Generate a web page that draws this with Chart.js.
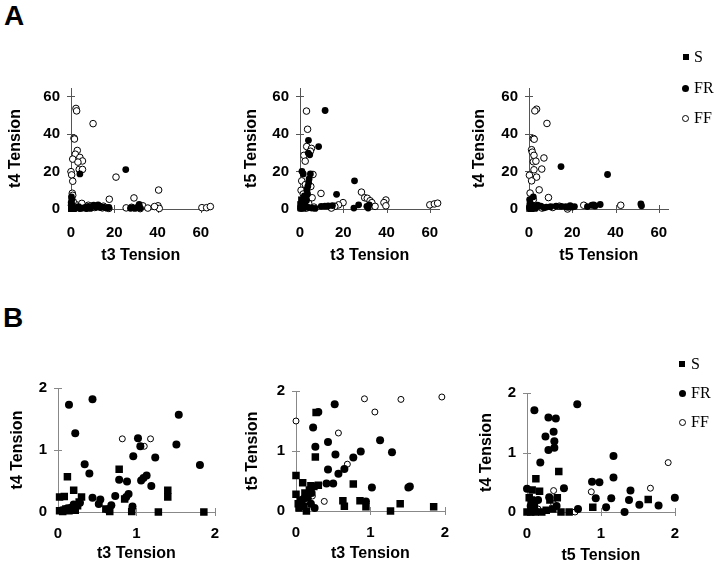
<!DOCTYPE html>
<html>
<head>
<meta charset="utf-8">
<script src="https://cdn.jsdelivr.net/npm/chart.js@4.4.1/dist/chart.umd.min.js"></script>
<style>
  body { margin:0; width:720px; height:572px; background:#fff; position:relative; overflow:hidden; font-family:"Liberation Sans", Arial, sans-serif; }
  canvas { position:absolute; }
  .letter { position:absolute; font-weight:bold; font-size:28px; line-height:28px; color:#000; }
  .leg { position:absolute; font-family:"Liberation Serif","Times New Roman",serif; font-size:16px; line-height:16px; color:#000; }
  .mk { position:absolute; box-sizing:border-box; }
  .sq { width:6px; height:6px; background:#000; }
  .fc { width:7px; height:7px; border-radius:50%; background:#000; }
  .oc { width:7px; height:7px; border-radius:50%; border:1px solid #000; background:#fff; }
</style>
</head>
<body>
<div class="letter" style="left:4px;top:2px">A</div>
<div class="letter" style="left:3px;top:304px">B</div>

<canvas id="a1"></canvas>
<canvas id="a2"></canvas>
<canvas id="a3"></canvas>
<canvas id="b1"></canvas>
<canvas id="b2"></canvas>
<canvas id="b3"></canvas>

<div id="legA"></div>
<div id="legB"></div>

<script>
// ---- data: [x, y] pairs per fibre type ----
const unitTypes = ["S", "FR", "FF"];

// A: t3 vs t4
const a1_S = [[0.1,0.1],[0.3,0.4],[0.6,0.2],[0.9,0.6],[1.2,0.1],[0.2,0.8]];
const a1_FR = [[25.3,21],[4.1,18.7],[0.2,6.4],[0.4,5.0],[0.1,3.5],[0.5,2.2],[1,1],[2,0.5],[3.5,1.2],[5,0.4],[6.5,0.9],[8,1.4],[9,0.3],[10.5,2.0],[11.5,1.0],[12.5,2.2],[13.5,0.8],[15,1.0],[16.5,0.5],[17.5,0.8],[27.5,0.4],[28.5,0.7],[29.5,0.3],[31,1.1],[32,0.5],[31.5,2.4],[0.3,0.2],[1.5,0.2],[4,0.2],[7,0.2]];
const a1_FF = [[2.3,53.6],[2.6,52.3],[1.4,37.8],[1.6,37.3],[10.2,45.5],[2.9,31.2],[2.0,29.2],[4.1,27.5],[0.8,26.6],[5.3,25.6],[3.2,25.0],[3.8,21.1],[5.3,21.1],[0,19.9],[0.3,18.2],[0.8,14.8],[0.6,8.4],[0.8,7.3],[20.8,17],[17.7,5.2],[29.1,5.9],[40.5,10.1],[40.2,1.7],[40.8,0.3],[38.6,1.3],[33.2,1.7],[35.5,0.5],[60.5,0.7],[62.7,0.7],[64.4,1.3],[0.5,0.5],[1.5,1],[3,1.5],[4.5,0.8],[6,1.2],[7.5,0.5],[9,1.6],[11,0.8],[13,1.5],[14.5,0.6],[16,0.8],[17.5,0.3],[2,2.5],[5,3],[1,4],[8,2],[12,1.2],[0.2,2],[15,1.5],[25.5,0.6],[28,0.9],[31,0.8],[32,0.2]];

// A: t3 vs t5
const a2_S = [[0.3,0.5],[0.8,1.5],[1.5,0.3],[0.2,2.5],[1.2,3],[2,1.5],[0.6,5]];
const a2_FR = [[11.6,52.5],[3.9,36.6],[8.6,33.3],[3.8,29.8],[4.5,28.9],[0.9,20.1],[1.5,18.7],[4.8,18.7],[4.2,16],[4.0,14],[3.6,12],[3.2,10],[3.5,8],[2.8,6.5],[3,4.5],[2.2,3],[1.6,2],[0.5,1],[0.2,0.3],[1.2,0.5],[2.5,1.2],[4,0.8],[5.5,0.5],[7,0.3],[2,7],[1,4],[16.9,7.8],[25.2,15],[9.8,1.4],[11.5,1.5],[13,1.6],[15,1.8],[24.9,0.5],[27.1,2.2],[30.9,1.4],[32,2.2],[31.5,0.5]];
const a2_FF = [[3,52.2],[3.5,42.5],[3.1,33.3],[5.3,32.3],[4.8,30.8],[1.8,28.6],[2.4,25.5],[6,18.4],[0.8,15],[9.7,8.3],[5.6,6],[19.9,3.4],[17.8,2.2],[16.1,1.4],[28.4,9],[29.9,6],[31.1,5.7],[32.4,4.4],[33.2,3.4],[34.7,1.4],[39.7,4.8],[38.8,3.4],[39.7,1.7],[60,2.2],[62.1,2.7],[63.6,3.1],[0.5,10],[1.5,8],[2,5],[4,3],[1,2],[6.5,1],[3,0.5],[14.5,0.5],[5,12],[2.5,13]];

// A: t5 vs t4
const a3_S = [[0.2,0.2],[0.6,0.6],[1,0.1],[0.3,1.3],[1.5,0.8],[0.8,2]];
const a3_FR = [[14.8,22.6],[36.3,18.4],[2,6.5],[0.3,5],[0.5,3.5],[1,2],[51.7,2.7],[52,1.7],[29.1,2],[29.9,2.2],[32.9,2.4],[30.5,1.6],[8,1],[12.5,1.5],[15,1.4],[17,1.2],[19,1.8],[20,1],[21,1.3],[18,0.9],[10,1.2],[5.5,1.5],[7,0.6],[3,0.3],[2,1.2],[4,2],[1.5,0.3],[0.2,0.8],[27,1.3]];
const a3_FF = [[3.5,53.2],[2.7,52.3],[2,37.6],[2.4,37.2],[1.2,31.6],[1.5,30.3],[2.3,28.6],[2,25.2],[3.2,25.5],[8.3,45.6],[6.9,27.2],[5.9,21.3],[2.3,20.9],[0.2,18],[3.5,17],[1.2,15],[4.7,10.2],[0.5,8.5],[9,6.1],[17.8,0],[25.3,2],[42.4,2],[0.8,3],[3,1.2],[6,0.5],[11,0.8],[14,1.5],[2,5]];

// B: t3 vs t4 (zoomed)
const b1_S = [[0.12,0.57],[0.20,0.35],[0.02,0.24],[0.08,0.25],[0.30,0.24],[0.27,0.16],[0.25,0.10],[0.78,0.69],[0.85,0.21],[1.40,0.35],[1.40,0.24],[1.28,0],[1.86,0],[0.94,0.01],[0.66,0.01],[0.61,0.05],[0.02,0.02],[0.06,0.01],[0.10,0.05],[0.14,0.02],[0.18,0.07],[0.22,0.03]];
const b1_FR = [[0.14,1.73],[0.44,1.82],[0.22,1.27],[1.54,1.57],[1.51,1.09],[1.02,1.19],[1.05,1.06],[0.96,0.90],[1.24,0.88],[1.81,0.76],[0.34,0.77],[0.40,0.62],[0.78,0.52],[0.88,0.49],[1.13,0.59],[1.09,0.55],[1.06,0.51],[1.19,0.42],[0.44,0.23],[0.54,0.20],[0.52,0.13],[0.73,0.26],[0.90,0.29],[0.87,0.24],[0.95,0.09],[0.68,0.11],[0.63,0.04],[0.05,0.03],[0.12,0.06],[0.2,0.12],[0.28,0.15],[0.19,2.12],[0.5,2.12]];
const b1_FF = [[0.82,1.18],[1.10,1.06],[1.18,1.18]];

// B: t3 vs t5
const b2_S = [[0.27,1.64],[0.26,0.90],[0,0.59],[0.09,0.47],[0.20,0.42],[0.24,0.41],[0.30,0.43],[0.77,0.45],[0.63,0.17],[0.65,0.08],[0.86,0.17],[0.94,0.07],[1.27,0],[1.40,0.12],[1.85,0.07],[0,0.28],[0.04,0.05],[0.14,0],[0.06,0.18],[0.12,0.3],[0.16,0.22],[0.03,0.12],[0.1,0.08],[0.18,0.35]];
const b2_FR = [[0.52,1.78],[0.30,1.65],[0.23,1.39],[0.26,1.07],[0.43,1.15],[1.13,1.18],[0.87,0.99],[0.77,0.89],[0.53,0.94],[1.29,0.98],[0.43,0.69],[0.65,0.70],[0.57,0.62],[0.41,0.46],[0.50,0.46],[1.02,0.39],[1.51,0.39],[1.53,0.41],[0.94,0.16],[0.2,0.12],[0.21,0.3],[0.1,0.2],[0.25,0.05]];
const b2_FF = [[0,1.5],[0.57,1.3],[0.69,0.78],[0.92,1.87],[1.06,1.65],[1.41,1.86],[1.96,1.9],[0.38,0.16],[0.92,2.1],[0.15,0.12],[0.22,0.25]];

// B: t5 vs t4
const b3_S = [[0.43,0.68],[0.12,0.56],[0.07,0.37],[0.17,0.35],[0.03,0.24],[0.06,0.2],[0.31,0.20],[0.41,0.24],[1.64,0.21],[0.89,0.08],[0.57,0],[0.46,0],[0,0],[0.05,0],[0.11,0],[0.2,0],[0.26,0.03],[0.1,0.1],[0.35,0.05]];
const b3_FR = [[0.10,1.71],[0.68,1.81],[0.29,1.59],[0.39,1.57],[0.25,1.27],[0.36,1.35],[0.37,1.19],[0.37,1.08],[0.29,1.04],[0.18,0.83],[1.17,0.94],[1.17,0.58],[0.88,0.51],[0.98,0.50],[0.50,0.40],[0,0.39],[0.93,0.23],[1.14,0.23],[1.40,0.36],[1.38,0.20],[1.52,0.12],[1.78,0.11],[2.0,0.24],[1.07,0.08],[1.32,0],[0.69,0.05],[0.09,2.12],[0.44,2.12],[0.05,0.1],[0.15,0.2],[0.3,0.25],[0.4,0.1]];
const b3_FF = [[1.91,0.83],[1.67,0.40],[0.87,0.34],[0.36,0.36],[0.65,0],[0.36,0.14],[0.15,0.05]];

const rangeA = 64.5, stepA = 20;
const rangeB = 2, stepB = 1;

const FONT = '"Liberation Sans", Arial, sans-serif';

// draws the small "+" ticks that cross each axis
const crossTicks = {
  id: "crossTicks",
  beforeDatasetsDraw(chart, args, opts) {
    const ctx = chart.ctx;
    const xs = chart.scales.x, ys = chart.scales.y;
    const ca = chart.chartArea;
    ctx.save();
    ctx.strokeStyle = opts.color;
    ctx.lineWidth = 1;
    ctx.beginPath();
    xs.ticks.forEach(t => {
      if (t.value === 0) return;
      const px = Math.round(xs.getPixelForValue(t.value)) + 0.5;
      ctx.moveTo(px, ca.bottom - 4);
      ctx.lineTo(px, ca.bottom + 4);
    });
    ys.ticks.forEach(t => {
      if (t.value === 0) return;
      const py = Math.round(ys.getPixelForValue(t.value)) + 0.5;
      ctx.moveTo(ca.left - 4, py);
      ctx.lineTo(ca.left + 4, py);
    });
    ctx.stroke();
    ctx.restore();
  }
};

function makePanel(id, area, xTitle, yTitle, range, step, S, FR, FF, big) {
  const lh = 16 * 1.2;
  const cLeft = Math.round(area.yTitleX - lh / 2);
  const cTop = area.T - 14;
  const cRight = area.R + 12;
  const cBottom = Math.round(area.xTitleY + lh / 2);
  const yW = area.L - cLeft;
  const xH = cBottom - area.B;

  const canvas = document.getElementById(id);
  canvas.width = cRight - cLeft;
  canvas.height = cBottom - cTop;
  canvas.style.left = cLeft + "px";
  canvas.style.top = cTop + "px";

  const axisColor = big ? "#555" : "#888";
  const clip = big ? false : { left: 10, top: 6, right: 10, bottom: 10 };
  const rS = big ? 4.5 : 5.3, rFR = big ? 3.4 : 4, rFF = big ? 3.3 : 3;

  const tickFont = { family: FONT, size: 15, weight: "bold" };
  const titleFont = { family: FONT, size: 16, weight: "bold" };

  return new Chart(canvas, {
    type: "scatter",
    data: {
      datasets: [
        { label: unitTypes[0], data: S, pointStyle: "rect", pointRadius: rS, backgroundColor: "#000", borderColor: "#000", borderWidth: 0, clip: clip },
        { label: unitTypes[1], data: FR, pointStyle: "circle", pointRadius: rFR, backgroundColor: "#000", borderColor: "#000", borderWidth: 0, clip: clip },
        { label: unitTypes[2], data: FF, pointStyle: "circle", pointRadius: rFF, backgroundColor: "#fff", borderColor: "#000", borderWidth: 1, clip: clip }
      ]
    },
    options: {
      responsive: false,
      animation: false,
      events: [],
      layout: { padding: { left: 0, top: 14, right: 12, bottom: 0 } },
      plugins: {
        legend: { display: false },
        tooltip: { enabled: false },
        crossTicks: { color: axisColor }
      },
      scales: {
        x: {
          type: "linear", min: 0, max: range,
          ticks: { stepSize: step, includeBounds: false, padding: big ? 15 : 13, color: "#000", font: tickFont, maxRotation: 0 },
          grid: { display: false, drawTicks: false },
          border: { display: true, color: axisColor, width: 1 },
          title: { display: true, text: xTitle, color: "#000", font: titleFont, padding: 0 },
          afterFit: s => { s.height = xH; }
        },
        y: {
          type: "linear", min: 0, max: range,
          ticks: { stepSize: step, includeBounds: false, padding: 11, color: "#000", font: tickFont },
          grid: { display: false, drawTicks: false },
          border: { display: true, color: axisColor, width: 1 },
          title: { display: true, text: yTitle, color: "#000", font: titleFont, padding: 0 },
          afterFit: s => { s.width = yW; }
        }
      }
    },
    plugins: [crossTicks]
  });
}

makePanel("a1", { L: 71, R: 213, T: 82, B: 209, yTitleX: 16, xTitleY: 255 }, "t3 Tension", "t4 Tension", rangeA, stepA, a1_S, a1_FR, a1_FF, true);
makePanel("a2", { L: 300, R: 442, T: 82, B: 209, yTitleX: 252, xTitleY: 255 }, "t3 Tension", "t5 Tension", rangeA, stepA, a2_S, a2_FR, a2_FF, true);
makePanel("a3", { L: 529, R: 671, T: 82, B: 209, yTitleX: 480, xTitleY: 255 }, "t5 Tension", "t4 Tension", rangeA, stepA, a3_S, a3_FR, a3_FF, true);
makePanel("b1", { L: 58, R: 220, T: 382, B: 512, yTitleX: 18, xTitleY: 553 }, "t3 Tension", "t4 Tension", rangeB, stepB, b1_S, b1_FR, b1_FF, false);
makePanel("b2", { L: 296, R: 450, T: 385, B: 511, yTitleX: 253, xTitleY: 553 }, "t3 Tension", "t5 Tension", rangeB, stepB, b2_S, b2_FR, b2_FF, false);
makePanel("b3", { L: 527, R: 680, T: 387, B: 512, yTitleX: 487, xTitleY: 555 }, "t5 Tension", "t4 Tension", rangeB, stepB, b3_S, b3_FR, b3_FF, false);

// legends (S / FR / FF) beside the right-hand panels
function makeLegend(el, mx, tx, ys) {
  const cls = ["sq", "fc", "oc"];
  let html = "";
  unitTypes.forEach((name, i) => {
    const size = i === 0 ? 6 : 7;
    html += `<div class="mk ${cls[i]}" style="left:${mx - size / 2}px;top:${ys[i] - size / 2}px"></div>`;
    html += `<div class="leg" style="left:${tx}px;top:${ys[i] - 8}px">${name}</div>`;
  });
  document.getElementById(el).innerHTML = html;
}
makeLegend("legA", 685.5, 694, [57, 88, 118]);
makeLegend("legB", 682, 691, [363.5, 393, 422]);
</script>
</body>
</html>
